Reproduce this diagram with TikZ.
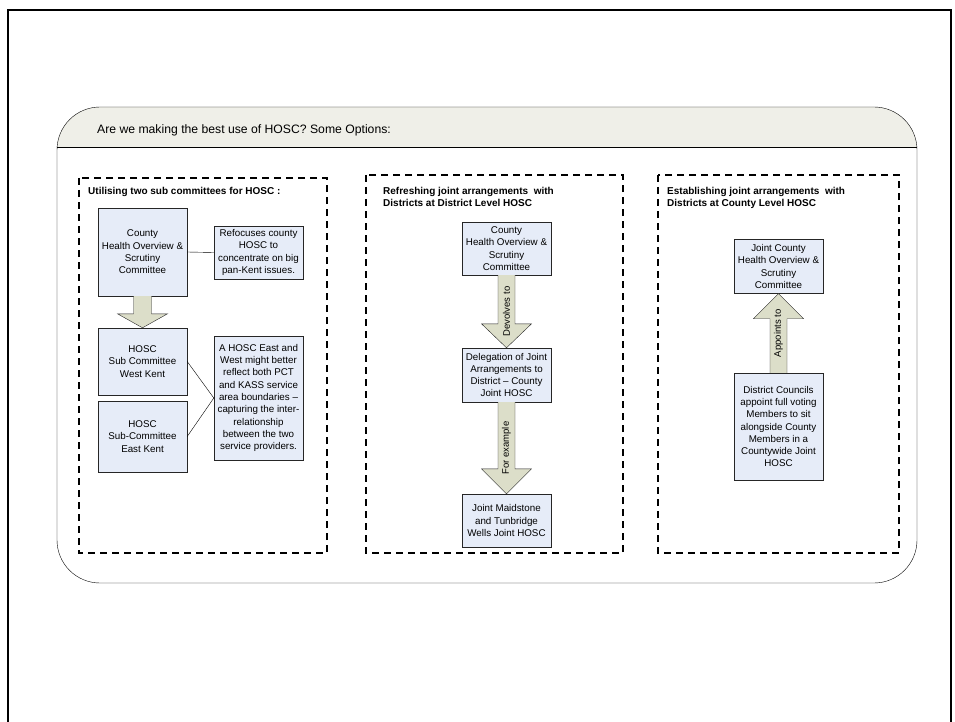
\documentclass[tikz,border=0pt]{standalone}
\usepackage{fontspec}
\setmainfont{Liberation Sans}
\usetikzlibrary{calc}

\definecolor{boxblue}{HTML}{E6ECF8}
\definecolor{arrowkhaki}{HTML}{DCDEC9}
\definecolor{headgrey}{HTML}{EFEFE8}

\tikzset{
  hbox/.style={draw=black!85, fill=boxblue, align=center, inner sep=0.5pt,
    minimum width=89pt, font=\fontsize{9.8}{12.3}\selectfont},
  optbox/.style={draw, line width=1.2pt, dash pattern=on 7pt off 5pt},
  blockarrow/.style={draw=black!85, fill=arrowkhaki},
  arrowtext/.style={rotate=90, inner sep=0pt, font=\fontsize{9.5}{11}\selectfont},
  optitle/.style={anchor=base west, align=left, inner sep=0pt,
    font=\fontsize{10}{12}\selectfont\bfseries},
}

\begin{document}
\begin{tikzpicture}[x=1pt,y=-1pt]
\useasboundingbox (0,0) rectangle (955,722);

% page frame
\draw[line width=2pt] (8,722) -- (8,10) -- (951,10) -- (951,722);

% outer panel with grey header
\begin{scope}
\clip (50,100) rectangle (925,147);
\fill[headgrey, rounded corners=43pt] (57,107) rectangle (917,583);
\end{scope}
\draw[rounded corners=43pt] (57,107) rectangle (917,583);
\draw (57,147) -- (917,147);
\node[anchor=base west, inner sep=0pt, font=\fontsize{12.2}{14}\selectfont] (title) at (97,134) {Are we making the best use of HOSC? Some Options:};

% the three options
\draw[optbox] (79,178) rectangle (327,553);
\draw[optbox] (366,175) rectangle (623,553);
\draw[optbox] (658,175) rectangle (899,553);

\node[optitle] (head1) at (88,194) {Utilising two sub committees for HOSC :};
\node[optitle] (head2) at (383,206) {Refreshing joint arrangements \ with\\Districts at District Level HOSC};
\node[optitle] (head3) at (667,206) {Establishing joint arrangements \ with\\Districts at County Level HOSC};

% Option 1: sub committees
\node[hbox, minimum height=88pt] (county1) at (142.5,252) {County\\Health Overview \&\\Scrutiny\\Committee};
\node[hbox, minimum height=53pt] (refocus) at (258.5,252.5) {Refocuses county\\HOSC to\\concentrate on big\\pan-Kent issues.};
\node[hbox, minimum height=67pt] (west) at (142.5,361.5) {HOSC\\Sub Committee\\West Kent};
\node[hbox, minimum height=71pt] (east) at (142.5,436.5) {HOSC\\Sub-Committee\\East Kent};
\node[hbox, minimum height=124pt] (eastwest) at (258.5,398) {A HOSC East and\\West might better\\reflect both PCT\\and KASS service\\area boundaries --\\capturing the inter-\\relationship\\between the two\\service providers.};

\draw (refocus.west) -- (county1.east);
\draw (west.east) -- (eastwest.west);
\draw (east.east) -- (eastwest.west);
\draw[blockarrow] ($(county1.south)+(-9,0)$) -- ($(west.north)+(-9,-14)$) -- ($(west.north)+(-25,-14)$) -- (west.north)
  -- ($(west.north)+(25,-14)$) -- ($(west.north)+(9,-14)$) -- ($(county1.south)+(9,0)$);

% Option 2: district level
\node[hbox, minimum height=53pt] (county2) at (506.5,248.5) {County\\Health Overview \&\\Scrutiny\\Committee};
\node[hbox, minimum height=54pt] (deleg) at (506.5,375) {Delegation of Joint\\Arrangements to\\District -- County\\Joint HOSC};
\node[hbox, minimum height=53pt] (maid) at (506.5,520.5) {Joint Maidstone\\and Tunbridge\\Wells Joint HOSC};

\draw[blockarrow] ($(county2.south)+(-8.5,0)$) -- ($(deleg.north)+(-8.5,-24)$) -- ($(deleg.north)+(-25,-24)$) -- (deleg.north)
  -- ($(deleg.north)+(25,-24)$) -- ($(deleg.north)+(8.5,-24)$) -- ($(county2.south)+(8.5,0)$);
\path (county2.south) -- node[arrowtext] (devolve) {Devolves to} (deleg.north);
\draw[blockarrow] ($(deleg.south)+(-8.5,0)$) -- ($(maid.north)+(-8.5,-25)$) -- ($(maid.north)+(-25,-25)$) -- (maid.north)
  -- ($(maid.north)+(25,-25)$) -- ($(maid.north)+(8.5,-25)$) -- ($(deleg.south)+(8.5,0)$);
\path (deleg.south) -- node[arrowtext] (example) {For example} (maid.north);

% Option 3: county level
\node[hbox, minimum height=54pt] (joint) at (778.5,266.5) {Joint County\\Health Overview \&\\Scrutiny\\Committee};
\node[hbox, minimum height=107pt] (district) at (778.5,426.5) {District Councils\\appoint full voting\\Members to sit\\alongside County\\Members in a\\Countywide Joint\\HOSC};

\draw[blockarrow] ($(district.north)+(-8.5,0)$) -- ($(joint.south)+(-8.5,25)$) -- ($(joint.south)+(-25,25)$) -- (joint.south)
  -- ($(joint.south)+(25,25)$) -- ($(joint.south)+(8.5,25)$) -- ($(district.north)+(8.5,0)$);
\path (district.north) -- node[arrowtext] (appoint) {Appoints to} (joint.south);

\end{tikzpicture}
\end{document}
